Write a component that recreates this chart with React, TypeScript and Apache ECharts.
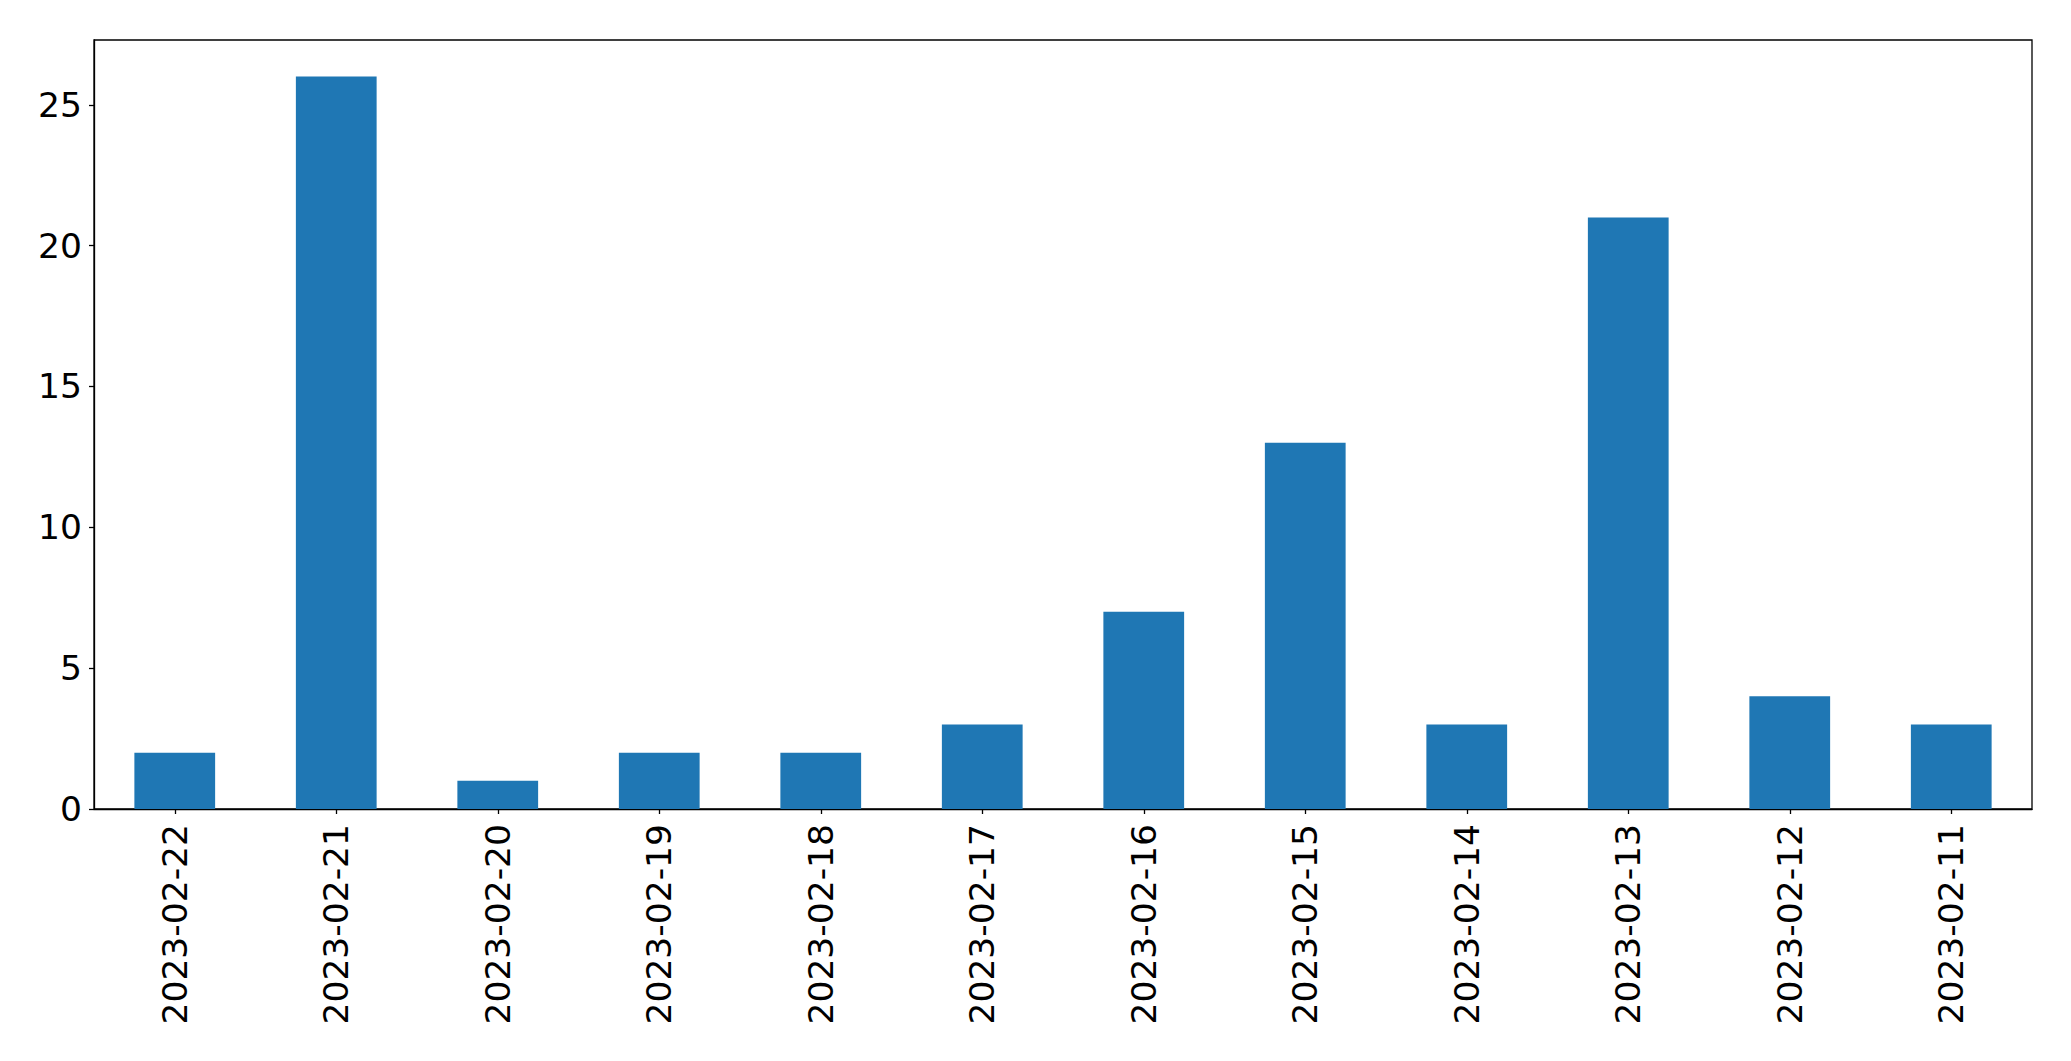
import React, { useEffect, useRef } from "react";
import * as echarts from "echarts";

const categories = [
  "2023-02-22", "2023-02-21", "2023-02-20", "2023-02-19", "2023-02-18", "2023-02-17",
  "2023-02-16", "2023-02-15", "2023-02-14", "2023-02-13", "2023-02-12", "2023-02-11",
];
const values = [2, 26, 1, 2, 2, 3, 7, 13, 3, 21, 4, 3];
const yTicks = [0, 5, 10, 15, 20, 25];

export default function App() {
  const ref = useRef<HTMLDivElement>(null);
  useEffect(() => {
    if (!ref.current) return;
    const chart = echarts.init(ref.current, null, { renderer: "svg" });
    const font = "DejaVu Sans";
    chart.setOption({
      animation: false,
      backgroundColor: "#fff",
      grid: {
        left: 94,
        top: 40,
        right: 39,
        bottom: 252,
        show: true,
        borderColor: "#000",
        borderWidth: 1.3,
        backgroundColor: "transparent",
        containLabel: false,
      },
      xAxis: {
        type: "category",
        data: categories,
        boundaryGap: true,
        axisLine: { show: true, lineStyle: { color: "#000", width: 1.3 } },
        axisTick: { show: true, alignWithLabel: true, length: 5, lineStyle: { color: "#000", width: 1.3 } },
        axisLabel: {
          rotate: 90,
          interval: 0,
          margin: 15,
          fontSize: 34.5,
          fontFamily: font,
          color: "#000",
        },
        splitLine: { show: false },
      },
      yAxis: {
        type: "value",
        min: 0,
        max: 27.3,
        axisLine: { show: true, lineStyle: { color: "#000", width: 1.3 } },
        axisTick: { show: true, length: 5, customValues: yTicks, lineStyle: { color: "#000", width: 1.3 } },
        axisLabel: {
          customValues: yTicks,
          margin: 12,
          fontSize: 34.5,
          fontFamily: font,
          color: "#000",
        },
        splitLine: { show: false },
      },
      series: [
        {
          type: "bar",
          data: values,
          barWidth: "50%",
          itemStyle: { color: "#1f77b4" },
        },
      ],
    });
    return () => chart.dispose();
  }, []);
  return (
    <div
      ref={ref}
      style={{ position: "absolute", left: 0, top: 0, width: 2071, height: 1061 }}
    />
  );
}
